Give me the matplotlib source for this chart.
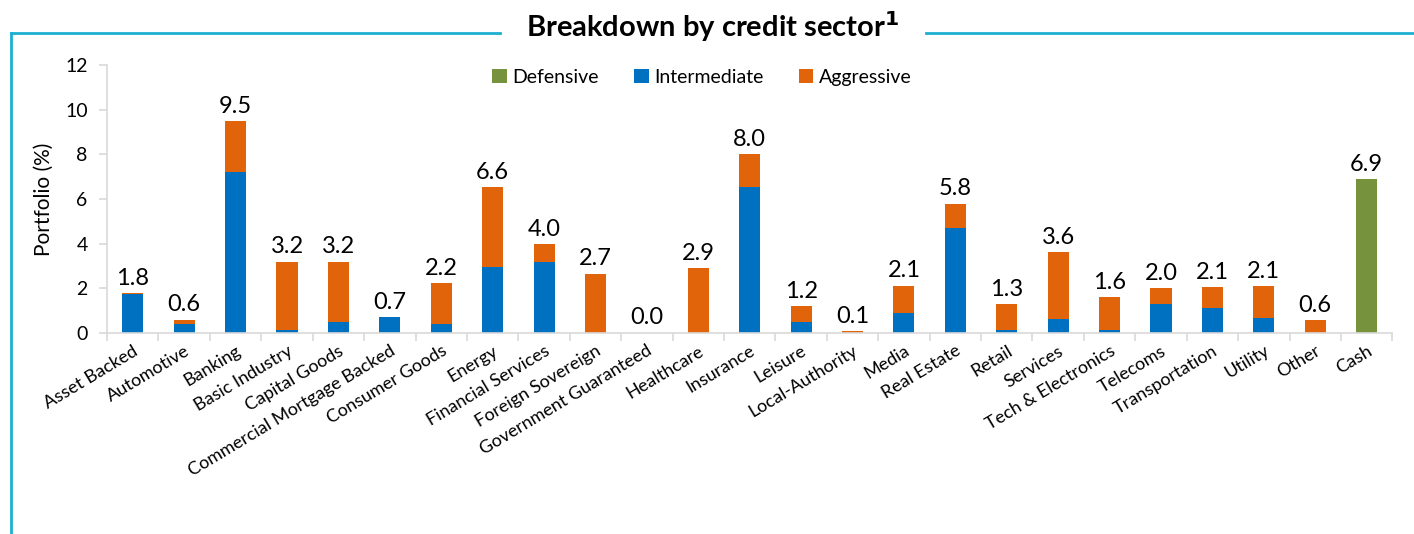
import numpy as np
import matplotlib.pyplot as plt
from matplotlib.lines import Line2D

plt.rcParams['font.family'] = ['Lato', 'DejaVu Sans']

# Sector breakdown (% of portfolio)
sectors = ["Asset Backed", "Automotive", "Banking", "Basic Industry", "Capital Goods",
           "Commercial Mortgage Backed", "Consumer Goods", "Energy", "Financial Services",
           "Foreign Sovereign", "Government Guaranteed", "Healthcare", "Insurance", "Leisure",
           "Local-Authority", "Media", "Real Estate", "Retail", "Services",
           "Tech & Electronics", "Telecoms", "Transportation", "Utility", "Other", "Cash"]
defensive = [0, 0, 0, 0, 0, 0, 0, 0, 0, 0, 0, 0, 0, 0, 0, 0, 0, 0, 0, 0, 0, 0, 0, 0, 6.9]
intermediate = [1.73, 0.42, 7.2, 0.15, 0.5, 0.7, 0.42, 2.95, 3.2, 0, 0, 0, 6.54, 0.49,
                0, 0.9, 4.72, 0.12, 0.63, 0.15, 1.32, 1.12, 0.69, 0, 0]
aggressive = [0.07, 0.18, 2.3, 3.05, 2.7, 0, 1.8, 3.6, 0.77, 2.66, 0.02, 2.92, 1.48, 0.71,
              0.1, 1.22, 1.07, 1.18, 2.98, 1.45, 0.7, 0.94, 1.41, 0.58, 0]

GREEN = '#76923C'
BLUE = '#0070C0'
ORANGE = '#E2640A'
CYAN = '#1DAFD0'
GREY = '#D9D9D9'

x = np.arange(len(sectors))
d = np.array(defensive)
m = np.array(intermediate)
a = np.array(aggressive)
total = d + m + a

fig = plt.figure(figsize=(14.14, 5.34), dpi=100)
ax = fig.add_axes([0.0757, 0.3764, 0.909, 0.502])

w = 0.41
ax.bar(x, d, w, color=GREEN, label='Defensive')
ax.bar(x, m, w, bottom=d, color=BLUE, label='Intermediate')
ax.bar(x, a, w, bottom=d + m, color=ORANGE, label='Aggressive')

for xi, t in zip(x, total):
    ax.annotate(f"{t:.1f}", (xi, t), xytext=(0, 3), textcoords='offset points',
                ha='center', va='bottom', fontsize=17)

ax.set_xlim(-0.5, len(sectors) - 0.5)
ax.set_ylim(0, 12)
ax.set_yticks(range(0, 13, 2))
ax.set_ylabel("Portfolio (%)", fontsize=15, labelpad=8)

ax.set_xticks(x)
ax.set_xticklabels(sectors, rotation=31, ha='right', rotation_mode='anchor', fontsize=13)
ax.tick_params(axis='x', length=0, pad=7)
ax.set_xticks(np.arange(-0.5, len(sectors)), minor=True)
ax.tick_params(axis='x', which='minor', length=6, color=GREY, width=1.2)
ax.tick_params(axis='y', length=6, color=GREY, width=1.2, labelsize=14, pad=8)

for s in ['top', 'right']:
    ax.spines[s].set_visible(False)
for s in ['left', 'bottom']:
    ax.spines[s].set_color(GREY)
    ax.spines[s].set_linewidth(1.2)

ax.legend(loc='upper center', bbox_to_anchor=(0.463, 1.05), ncol=3, frameon=False,
          fontsize=14, handlelength=0.75, handleheight=0.75, handletextpad=0.3,
          columnspacing=1.8)

# title with a framing line broken around it
fig.text(0.504, 0.951, r"Breakdown by credit sector$^{\mathbf{1}}$", ha='center', va='center',
         fontsize=21, fontweight='bold')
y_line = 1 - 33 / 534
fig.add_artist(Line2D([11 / 1414, 500 / 1414], [y_line, y_line], color=CYAN, lw=2))
fig.add_artist(Line2D([926 / 1414, 1.0], [y_line, y_line], color=CYAN, lw=2))
fig.add_artist(Line2D([11 / 1414, 11 / 1414], [y_line, 0], color=CYAN, lw=2))

fig.savefig("out.png", dpi=100)
